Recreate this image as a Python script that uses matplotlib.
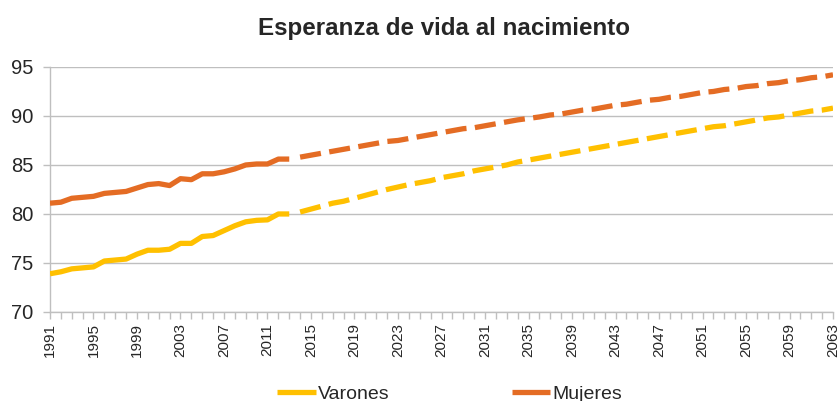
import numpy as np
import matplotlib.pyplot as plt

plt.rcParams['font.family'] = ['Liberation Sans', 'DejaVu Sans']

# observed series 1991-2013
years_obs = list(range(1991, 2014))
mujeres_obs = [81.1, 81.2, 81.6, 81.7, 81.8, 82.1, 82.2, 82.3, 82.65, 83.0, 83.1, 82.9,
               83.6, 83.5, 84.1, 84.1, 84.3, 84.6, 85.0, 85.1, 85.1, 85.6, 85.6]
varones_obs = [73.9, 74.1, 74.4, 74.5, 74.6, 75.2, 75.3, 75.4, 75.9, 76.3, 76.3, 76.4,
               77.0, 77.0, 77.7, 77.8, 78.3, 78.8, 79.2, 79.35, 79.4, 80.0, 80.0]

# projection 2014-2063
years_proj = list(range(2014, 2064))
mujeres_proj = [85.8, 86.0, 86.2, 86.4, 86.6, 86.8, 87.0, 87.2, 87.4, 87.5,
                87.7, 87.9, 88.1, 88.3, 88.5, 88.7, 88.8, 89.0, 89.2, 89.4,
                89.6, 89.75, 89.9, 90.1, 90.2, 90.4, 90.6, 90.7, 90.9, 91.1,
                91.2, 91.4, 91.6, 91.7, 91.9, 92.0, 92.2, 92.4, 92.5, 92.7,
                92.8, 93.0, 93.1, 93.3, 93.4, 93.6, 93.7, 93.9, 94.0, 94.2]
varones_proj = [80.2, 80.5, 80.8, 81.1, 81.3, 81.6, 81.9, 82.2, 82.5, 82.75,
                83.0, 83.2, 83.4, 83.7, 83.9, 84.1, 84.4, 84.6, 84.8, 85.0,
                85.3, 85.5, 85.7, 85.9, 86.1, 86.3, 86.5, 86.7, 86.9, 87.1,
                87.3, 87.5, 87.7, 87.9, 88.1, 88.3, 88.5, 88.7, 88.9, 89.0,
                89.2, 89.4, 89.6, 89.8, 89.9, 90.1, 90.3, 90.5, 90.6, 90.8]

C_VAR = '#FFC000'
C_MUJ = '#E46C24'
GRID = '#BFBFBF'
TXT = '#262626'

fig = plt.figure(figsize=(8.4, 4.01), dpi=100)
ax = fig.add_axes([0.0595, 0.222, 0.9322, 0.611])

lw = 3.8
ax.plot(years_obs, varones_obs, color=C_VAR, lw=lw, solid_capstyle='butt', label='Varones', zorder=3)
ax.plot(years_obs, mujeres_obs, color=C_MUJ, lw=lw, solid_capstyle='butt', label='Mujeres', zorder=3)
ax.plot(years_proj, varones_proj, color=C_VAR, lw=lw, ls=(0, (4, 1.6)), zorder=3)
ax.plot(years_proj, mujeres_proj, color=C_MUJ, lw=lw, ls=(0, (4, 1.6)), zorder=3)

ax.set_xlim(1991, 2063)
ax.set_ylim(70, 95)
ax.set_yticks(range(70, 96, 5))
ax.set_xticks(range(1991, 2064, 4))
ax.set_xticks(range(1991, 2064), minor=True)
ax.set_xticklabels([str(y) for y in range(1991, 2064, 4)], rotation=90)

ax.grid(axis='y', color=GRID, lw=1)
ax.set_axisbelow(True)
for s in ('top', 'right'):
    ax.spines[s].set_visible(False)
for s in ('left', 'bottom'):
    ax.spines[s].set_color(GRID)
    ax.spines[s].set_linewidth(1)

ax.tick_params(axis='y', labelsize=14.5, colors=GRID, labelcolor=TXT, length=5, width=1, pad=7)
ax.tick_params(axis='x', which='both', labelsize=11, colors=GRID, labelcolor=TXT, length=5, width=1, pad=3)

fig.text(0.528, 0.93, 'Esperanza de vida al nacimiento', ha='center', va='center',
         fontsize=17.4, fontweight='bold', color=TXT)

fig.legend(loc='center', bbox_to_anchor=(0.535, 0.018), ncol=2, frameon=False,
           fontsize=14, handlelength=2.0, handletextpad=0.1, columnspacing=6.3,
           labelcolor=TXT)

fig.savefig('out.png', dpi=100)
